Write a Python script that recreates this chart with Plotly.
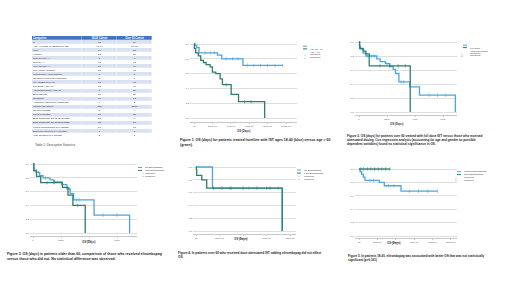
import plotly.graph_objects as go

W, H = 520, 292
BLUE = "#4ea6e0"
GREEN = "#2f7d6f"
FONT = "Liberation Sans, Arial, sans-serif"

# ---------------- Table data ----------------
table_header = ["Categories", "18-60 Cohort", "Over 60 Cohort"]
table_categories = [
    "N", "Age (Average at Initiation of IST)", "Male", "Female", "Non-Severe AA",
    "Severe AA", "Very Severe AA", "PNH Clone Present", "Cytogenetic Abnormalities",
    "Identified Molecular Mutations", "HLA DRB1 15 or 16", "Full Dose ATGAM",
    "Attenuated Dose ATGAM", "Eltrombopag", "Relapsed", "Allogeneic Stem Cell Transplant",
    "Median OS (Days)", "CR at 3 Months", "PR at 3 Months", "Best Response CR at 12 Months",
    "Best Response PR at 12 Months", "Febrile Neutropenia in 6 Months",
    "Bacterial Infection in 6 Months", "Viral Infection in 6 Months",
]
cohort_18_60 = ["62", "40.04", "34", "27", "1", "45", "16", "27", "6", "5", "15", "62",
                "0", "16", "16", "9", "505", "5", "31", "20", "28", "17", "7", "2"]
cohort_over_60 = ["54", "69.65", "28", "26", "8", "15", "10", "13", "8", "6", "12", "34",
                  "20", "20", "13", "2", "2760", "4", "25", "6", "28", "13", "8", "1"]
table_col_edges = [0, 50, 85, 120]

# ---------------- Survival data (days, survival probability) ----------------
f1_young_t = [0, 120, 300, 550, 2550, 3020, 5315, 9650]
f1_young_s = [1.0, 0.98, 0.95, 0.88, 0.85, 0.80, 0.71, 0.71]
f1_young_c = [1200, 1800, 2200, 3500, 4200, 4800, 5800, 6500, 7200, 8000, 8800, 9650]
f1_old_t = [0, 40, 180, 470, 730, 1020, 1310, 1750, 2000, 2370, 2840, 3090, 4040, 4840, 7680, 7680]
f1_old_s = [1.0, 0.94, 0.88, 0.84, 0.78, 0.75, 0.72, 0.69, 0.62, 0.60, 0.53, 0.45, 0.32, 0.22, 0.22, 0.0]
f1_old_c = [3500, 5500, 6200]

f2_full_t = [0, 30, 100, 300, 490, 1270, 1510, 1880, 2200, 2440, 2610, 2850, 3630, 4320, 6880, 6880]
f2_full_s = [1.0, 0.94, 0.90, 0.84, 0.80, 0.76, 0.72, 0.69, 0.65, 0.61, 0.55, 0.43, 0.36, 0.24, 0.24, 0.0]
f2_full_c = [600, 900, 1100, 2000, 3000, 3200, 5000, 5600, 6200]
f2_att_t = [0, 50, 300, 490, 730, 3660, 3660]
f2_att_s = [1.0, 0.91, 0.87, 0.83, 0.66, 0.66, 0.0]
f2_att_c = [1500, 2200, 2800, 3300]

f3_no_t = [0, 70, 240, 480, 720, 1210, 1500, 2060, 2420, 2660, 2900, 4360, 6900, 6900]
f3_no_s = [1.0, 0.91, 0.88, 0.83, 0.80, 0.77, 0.74, 0.70, 0.64, 0.57, 0.48, 0.26, 0.26, 0.0]
f3_no_c = [400, 900, 1500, 2600, 3100, 3300, 5000, 6000]
f3_with_t = [0, 60, 250, 550, 2100, 2500, 2850, 3730, 3730]
f3_with_s = [1.0, 0.90, 0.82, 0.73, 0.66, 0.55, 0.40, 0.40, 0.0]
f3_with_c = [1000, 1500, 3200]

f4_no_t = [0, 1400, 7340, 7340]
f4_no_s = [1.0, 0.67, 0.67, 0.0]
f4_no_c = [3000, 4500, 6000, 7000]
f4_with_t = [0, 30, 60, 490, 910, 7340, 7340]
f4_with_s = [1.0, 0.96, 0.87, 0.80, 0.67, 0.67, 0.0]
f4_with_c = [1500, 2200, 2900, 4000, 5200, 6300]

f5_without_t = [0, 110, 290, 470, 650, 2220, 2760, 4580, 8550]
f5_without_s = [1.0, 0.96, 0.92, 0.88, 0.83, 0.80, 0.75, 0.67, 0.67]
f5_without_c = [1200, 1600, 3200, 3800, 5500, 6500, 7500, 8550]
f5_with_t = [0, 3380]
f5_with_s = [1.0, 1.0]
f5_with_c = [200, 500, 900, 1300, 1700, 2100, 2500, 2900, 3380]

# ---------------- Tick labels ----------------
y_tickvals = [0.0, 0.2, 0.4, 0.6, 0.8, 1.0]
y_ticktext = ["0.0", "0.2", "0.4", "0.6", "0.8", "1.0"]
x_ticks_10k = [0, 2000, 4000, 6000, 8000, 10000]
x_text_10k = [".00", "2000.00", "4000.00", "6000.00", "8000.00", "10000.00"]
x_ticks_6k = [0, 2000, 4000, 6000]
x_text_6k = ["0", "2000", "4000", "6000"]
x_ticks_8k = [0, 2000, 4000, 6000, 8000]
x_text_8k = [".00", "2000.00", "4000.00", "6000.00", "8000.00"]

captions = [
    "<b>Figure 1. OS (days) for patients treated frontline with IST ages 18-60 (blue) versus age > 60<br>(green).</b>",
    "<b>Figure 2. OS (days) for patients over 60 treated with full dose IST versus those who received<br>attenuated dosing. Cox regression analysis (accounting for age and gender as possible<br>dependent variables) found no statistical significance in OS.</b>",
    "<b>Figure 3. OS (days) in patients older than 60, comparison of those who received eltrombopag<br>versus those who did not. No statistical difference was observed.</b>",
    "<b>Figure 4. In patients over 60 who received dose attenuated IST, adding eltrombopag did not affect<br>OS.</b>",
    "<b>Figure 5. In patients 18-60, eltrombopag was associated with better OS that was not statistically<br>significant (p=0.161)</b>",
]

panels = [
    dict(L=190, R=297, p0=194, pv=286, vv=10000, T=42, B=122, y1=44, y0=118,
         ticks=(x_ticks_10k, x_text_10k),
         series=[("Age 18 - 60", BLUE, f1_young_t, f1_young_s, f1_young_c),
                 ("Age > 60", GREEN, f1_old_t, f1_old_s, f1_old_c)],
         cens="Censored", leg=(303, 46.2, 2.65), title=(243, 130.5),
         cap=(178, 135.5, 3.5)),
    dict(L=355, R=457, p0=359, pv=387, vv=2000, T=40, B=115, y1=42, y0=112,
         ticks=(x_ticks_6k, x_text_6k),
         series=[("Full Dose", BLUE, f2_full_t, f2_full_s, f2_full_c),
                 ("Attenuated Dose", GREEN, f2_att_t, f2_att_s, f2_att_c)],
         cens="Censored", leg=(463, 45.2, 2.4), title=(405, 124),
         cap=(345, 132, 3.1)),
    dict(L=30, R=137, p0=33, pv=61, vv=2000, T=162, B=236, y1=164, y0=233,
         ticks=(x_ticks_6k, x_text_6k),
         series=[("No Eltrombopag", BLUE, f3_no_t, f3_no_s, f3_no_c),
                 ("With Eltrombopag", GREEN, f3_with_t, f3_with_s, f3_with_c)],
         cens="censored", leg=(138, 167.5, 2.9), title=(80, 246),
         cap=(5, 250, 3.5)),
    dict(L=193, R=296, p0=196, pv=290, vv=8000, T=165, B=234, y1=167, y0=231,
         ticks=(x_ticks_8k, x_text_8k),
         series=[("No Eltrombopag", BLUE, f4_no_t, f4_no_s, f4_no_c),
                 ("With Eltrombopag", GREEN, f4_with_t, f4_with_s, f4_with_c)],
         cens="censored", leg=(297, 170, 3.0), title=(240, 243),
         cap=(176, 248.5, 3.1)),
    dict(L=355, R=457, p0=359, pv=450.7, vv=10000, T=167, B=238, y1=169, y0=236,
         ticks=(x_ticks_10k, x_text_10k),
         series=[("Without Eltrombopag", BLUE, f5_without_t, f5_without_s, f5_without_c),
                 ("With Eltrombopag", GREEN, f5_with_t, f5_with_s, f5_with_c)],
         cens="censored", leg=(457, 171.7, 2.9), title=(402, 247),
         cap=(346, 252, 3.0)),
]


def step_value(ts, ss, t):
    v = ss[0]
    for ti, si in zip(ts, ss):
        if ti <= t:
            v = si
    return v


fig = go.Figure()
layout = dict(width=W, height=H, margin=dict(l=0, r=0, t=0, b=0),
              paper_bgcolor="white", plot_bgcolor="white", showlegend=False,
              font=dict(family=FONT, size=3, color="#333"))
annotations = []
shapes = []

# ---------------- Table (heatmap cells + text) ----------------
nrows = len(table_categories) + 1
row_edges = list(range(nrows + 1))
zrows = [[2, 2, 2]] + [[1 if i % 2 == 0 else 0] * 3 for i in range(len(table_categories))]
fig.add_trace(go.Heatmap(
    x=table_col_edges, y=row_edges, z=zrows, zmin=0, zmax=2, showscale=False,
    colorscale=[[0, "#ffffff"], [0.33, "#ffffff"], [0.33, "#d9e1f2"], [0.66, "#d9e1f2"],
                [0.66, "#4472c4"], [1, "#4472c4"]],
    xgap=0.3, ygap=0.25, hoverinfo="skip", xaxis="x6", yaxis="y6"))
row_centers = [r + 0.5 for r in range(nrows)]
col_centers = [(table_col_edges[k] + table_col_edges[k + 1]) / 2 for k in range(3)]
fig.add_trace(go.Scatter(
    x=[table_col_edges[0] + 1, col_centers[1], col_centers[2]], y=[0.5, 0.5, 0.5],
    text=["<b>%s</b>" % h for h in table_header], mode="text",
    textposition=["middle right", "middle center", "middle center"],
    textfont=dict(size=2.6, color="white", family=FONT), hoverinfo="skip", xaxis="x6", yaxis="y6"))
fig.add_trace(go.Scatter(
    x=[table_col_edges[0] + 1] * len(table_categories), y=row_centers[1:], text=table_categories,
    mode="text", textposition="middle right", textfont=dict(size=2.5, color="#222", family=FONT),
    hoverinfo="skip", xaxis="x6", yaxis="y6"))
for k, vals in ((1, cohort_18_60), (2, cohort_over_60)):
    fig.add_trace(go.Scatter(
        x=[col_centers[k]] * len(vals), y=row_centers[1:], text=vals, mode="text",
        textposition="middle center", textfont=dict(size=2.5, color="#222", family=FONT),
        hoverinfo="skip", xaxis="x6", yaxis="y6"))
layout["xaxis6"] = dict(domain=[32 / W, 152 / W], range=[0, 120], visible=False, anchor="y6",
                        fixedrange=True)
layout["yaxis6"] = dict(domain=[1 - 137 / H, 1 - 36 / H], range=[nrows, 0], visible=False,
                        anchor="x6", fixedrange=True)
annotations.append(dict(x=33 / W, y=1 - 141 / H, xref="paper", yref="paper", xanchor="left",
                        yanchor="top", showarrow=False, text="Table 1: Descriptive Statistics",
                        font=dict(size=3.1, color="#444")))

# ---------------- KM panels ----------------
for i, p in enumerate(panels, start=1):
    xa = "xaxis" if i == 1 else "xaxis%d" % i
    ya = "yaxis" if i == 1 else "yaxis%d" % i
    xs = "x" if i == 1 else "x%d" % i
    ys = "y" if i == 1 else "y%d" % i
    scale = (p["pv"] - p["p0"]) / p["vv"]
    xr = [(p["L"] - p["p0"]) / scale, (p["R"] - p["p0"]) / scale]
    yscale = (p["y0"] - p["y1"])
    yr = [(p["y0"] - p["B"]) / yscale, (p["y0"] - p["T"]) / yscale]
    layout[xa] = dict(domain=[p["L"] / W, p["R"] / W], range=xr, anchor=ys,
                      tickvals=p["ticks"][0], ticktext=p["ticks"][1], showgrid=False,
                      zeroline=False, showline=True, linecolor="#c8c8c8", linewidth=0.6,
                      ticks="outside", ticklen=1, tickcolor="#c8c8c8", tickwidth=0.5,
                      tickfont=dict(size=2.4, color="#555"), fixedrange=True)
    layout[ya] = dict(domain=[1 - p["B"] / H, 1 - p["T"] / H], range=yr, anchor=xs,
                      tickvals=y_tickvals, ticktext=y_ticktext, showgrid=True,
                      gridcolor="#dedede", gridwidth=0.6, zeroline=False, showline=False,
                      ticks="", tickfont=dict(size=2.5, color="#555"), fixedrange=True)
    for name, color, ts, ss, cs in p["series"]:
        fig.add_trace(go.Scatter(x=ts, y=ss, mode="lines", line=dict(color=color, width=1.3, shape="hv"),
                                 xaxis=xs, yaxis=ys, name=name, hoverinfo="skip"))
        fig.add_trace(go.Scatter(x=cs, y=[step_value(ts, ss, c) for c in cs], mode="markers",
                                 marker=dict(symbol="line-ns", size=2.5, line=dict(color=color, width=0.6)),
                                 xaxis=xs, yaxis=ys, name=p["cens"], hoverinfo="skip"))
    annotations.append(dict(x=p["title"][0] / W, y=1 - p["title"][1] / H, xref="paper", yref="paper",
                            showarrow=False, text="<b>OS (Days)</b>", font=dict(size=2.8, color="#333")))
    annotations.append(dict(x=p["cap"][0] / W, y=1 - p["cap"][1] / H, xref="paper", yref="paper",
                            xanchor="left", yanchor="top", align="left", showarrow=False,
                            text=captions[i - 1], font=dict(size=p["cap"][2], color="#222")))
    lx, ly, dy = p["leg"]
    labels = [p["series"][0][0], p["series"][1][0], p["cens"], p["cens"]]
    colors = [BLUE, GREEN, BLUE, GREEN]
    for k in range(4):
        yy = ly + k * dy
        if k < 2:
            shapes.append(dict(type="line", xref="paper", yref="paper", x0=lx / W, x1=(lx + 4) / W,
                               y0=1 - yy / H, y1=1 - yy / H, line=dict(color=colors[k], width=1)))
        else:
            annotations.append(dict(x=(lx + 2) / W, y=1 - yy / H, xref="paper", yref="paper",
                                    showarrow=False, text="+", font=dict(size=3, color=colors[k])))
        annotations.append(dict(x=(lx + 5) / W, y=1 - yy / H, xref="paper", yref="paper",
                                xanchor="left", showarrow=False, text=labels[k],
                                font=dict(size=2.4, color="#333")))

layout["annotations"] = annotations
layout["shapes"] = shapes
fig.update_layout(**layout)
fig.write_html("out.html", config={"displayModeBar": False},
               post_script="document.body.style.margin='0px';document.body.style.overflow='hidden';")
